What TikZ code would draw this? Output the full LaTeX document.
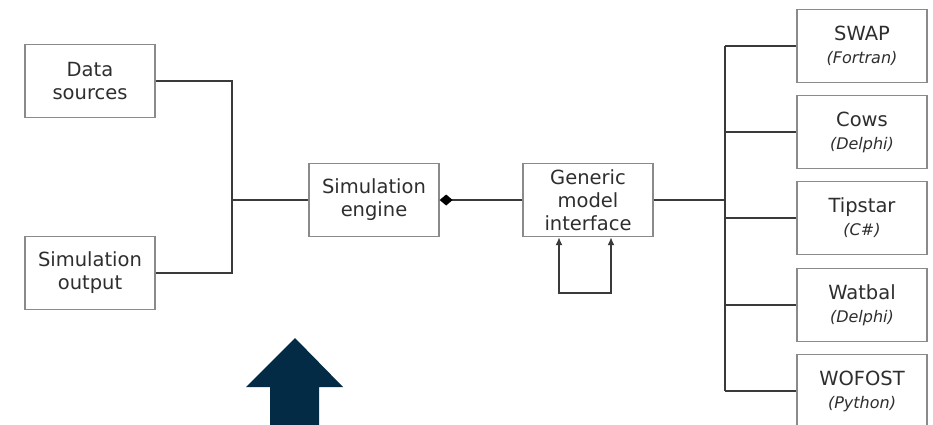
\documentclass[tikz,border=0pt]{standalone}
\usepackage{fontspec}
\setmainfont{DejaVu Sans}
\usetikzlibrary{arrows.meta}
\definecolor{navy}{HTML}{032B45}
\definecolor{boxgray}{HTML}{8A8A8A}
\definecolor{linegray}{HTML}{3A3A3A}
\definecolor{txt}{HTML}{2E2E2E}
\begin{document}
\begin{tikzpicture}[x=1pt,y=-1pt,
  box/.style={draw=boxgray, line width=1.3pt, minimum width=130pt, minimum height=73pt,
    inner sep=0pt, align=center, font=\fontsize{19.5}{23}\selectfont, text=txt},
  conn/.style={draw=linegray, line width=1.8pt}]
\clip (0,0) rectangle (933,424);
\fill[white] (0,0) rectangle (933,424);
% left
\node[box] (ds) at (90,81) {Data\\sources};
\node[box] (so) at (90,273) {Simulation\\output};
\node[box] (se) at (374,200) {Simulation\\engine};
\node[box] (gmi) at (588,200) {Generic\\model\\interface};
% right models
\newcommand{\langtxt}[1]{{\fontsize{16}{20}\selectfont\itshape #1}}
\node[box] (swap) at (862,46) {SWAP\\\langtxt{(Fortran)}};
\node[box] (cows) at (862,132) {Cows\\\langtxt{(Delphi)}};
\node[box] (tip) at (862,218) {Tipstar\\\langtxt{(C\#)}};
\node[box] (wat) at (862,305) {Watbal\\\langtxt{(Delphi)}};
\node[box] (wof) at (862,391) {WOFOST\\\langtxt{(Python)}};
% left connectors
\coordinate (lbus) at (232,200);
\draw[conn] (ds.east) -| (lbus) |- (so.east);
\draw[conn] (lbus) -- (se.west);
% engine to interface
\draw[conn, -{Diamond[length=13pt,width=11pt,color=black,fill=black]}] (gmi.west) -- (se.east);
% self loop
\coordinate (loopL) at (559,293);
\coordinate (loopR) at (611,293);
\draw[conn, {Latex[length=8pt,width=7pt]}-{Latex[length=8pt,width=7pt]}]
  (gmi.south -| loopL) -- (loopL) -- (loopR) -- (gmi.south -| loopR);
% right tree
\coordinate (rbus) at (725,200);
\draw[conn] (gmi.east) -- (rbus);
\draw[conn] (rbus |- swap.west) -- (rbus |- wof.west);
\foreach \n in {swap,cows,tip,wat,wof}
  \draw[conn] (rbus |- \n.west) -- (\n.west);
% big arrow
\fill[navy] (270,430) -- (270,387) -- (246,387) -- (295,338) -- (343,387)
  -- (319,387) -- (319,430) -- cycle;
\end{tikzpicture}
\end{document}
